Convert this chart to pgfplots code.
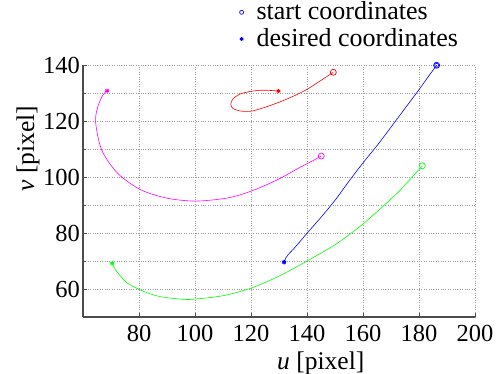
\documentclass[border=0pt]{standalone}
\usepackage{pgfplots}
\pgfplotsset{compat=1.18}
\usepackage{fontspec}
\setmainfont{Liberation Serif}
\definecolor{mmag}{RGB}{255,0,255}
\definecolor{mgreen}{RGB}{0,255,0}
\definecolor{mblue}{RGB}{0,0,255}
\definecolor{mred}{RGB}{255,0,0}
\begin{document}
\fontsize{24}{28}\selectfont
\begin{tikzpicture}
\path[use as bounding box] (0,0) rectangle (501pt,374pt);
\begin{axis}[
  at={(83pt,57pt)}, anchor=south west,
  scale only axis, width=392pt, height=252pt,
  xmin=60, xmax=200, ymin=50, ymax=140,
  axis x line=bottom, axis y line=left,
  axis line style={-, line width=1.2pt, black!70},
  xtick={80,100,120,140,160,180,200},
  xticklabels={\textrm{80},\textrm{100},\textrm{120},\textrm{140},\textrm{160},\textrm{180},\textrm{200}},
  ytick={60,80,100,120,140},
  yticklabels={\textrm{60},\textrm{80},\textrm{100},\textrm{120},\textrm{140}},
  minor ytick={70,90,110,130},
  tick align=inside, major tick length=4pt, minor tick length=3pt,
  tick style={black!70, line width=0.8pt},
  grid=both,
  major grid style={dotted, gray!80, line width=0.7pt},
  minor grid style={dotted, gray!80, line width=0.7pt},
  xticklabel style={font=\fontsize{24.5}{28}\selectfont\rmfamily, anchor=base, inner sep=0pt, yshift=-24.7pt},
  yticklabel style={font=\fontsize{24.5}{28}\selectfont\rmfamily, anchor=east, inner sep=0pt, xshift=-3pt},
  xlabel={\textit{u} [pixel]}, ylabel={\textit{v} [pixel]},
  label style={font=\fontsize{25.5}{28}\selectfont},
  xlabel style={at={(axis description cs:0.6066,-0.2103)}, anchor=base, inner sep=0pt},
  ylabel style={at={(axis description cs:-0.1403,0.669)}, anchor=center, inner sep=0pt},
  legend style={draw=none, fill=none, at={(axis description cs:0.399,1.0595)}, anchor=south west,
    font=\fontsize{26}{28}\selectfont, row sep=5pt, column sep=13pt, inner sep=0pt,
    nodes={inner sep=0pt}},
  legend cell align=left,
  legend image code/.code={\draw[#1] plot coordinates {(0pt,0pt)};},
  clip=false,
]
% legend entries
\addplot[only marks, mblue, mark=o, mark size=2pt, line width=0.7pt] coordinates {(186.3,139.9)};
\addlegendentry{start coordinates}
\addplot[only marks, mblue, mark=asterisk, mark size=2pt, line width=1pt] coordinates {(131.8,69.6)};
\addlegendentry{desired coordinates}
% blue
\addplot[mblue, line width=0.6pt, smooth, forget plot] coordinates {
(186.3,139.9) (183,135.4) (180,131.2) (175,124.5) (170,117.8) (165,111.2) (160.2,105.3) (155,98.5) (150.1,91.8) (145,85.6) (140,79.9) (136,75.2) (133.3,72.3) (132.5,71.2) (131.8,69.6)};
\addplot[only marks, mblue, mark=o, mark size=3pt, line width=0.7pt, forget plot] coordinates {(186.3,139.9)};
\addplot[only marks, mblue, mark=asterisk, mark size=2.2pt, line width=1pt, forget plot] coordinates {(131.8,69.6)};
% green
\addplot[mgreen, line width=0.6pt, smooth, forget plot] coordinates {
(181.2,104.0) (177,99.4) (173,95.0) (166,88.5) (159,82.4) (150,75.8) (140,70.0) (130,64.6) (120,60.3) (110,57.6) (100,56.4) (96,56.3) (88,57.2) (82,59.0) (76,62.0) (73.6,64.4) (71.2,67.4) (70.4,69.2)};
\addplot[only marks, mgreen, mark=o, mark size=3pt, line width=0.7pt, forget plot] coordinates {(181.2,104.0)};
\addplot[only marks, mgreen, mark=asterisk, mark size=2.2pt, line width=1pt, forget plot] coordinates {(70.4,69.2)};
% magenta
\addplot[mmag, line width=0.6pt, smooth, forget plot] coordinates {
(145.1,107.5) (141.5,105.5) (137.6,103.5) (129.4,99.0) (119.9,94.9) (111.6,92.5) (100.3,91.4) (90.2,92.4) (80.7,95.4) (72.4,101.3) (66.7,109.6) (64.5,119.6) (65.3,125.1) (67.1,129.3) (68.6,130.8)};
\addplot[only marks, mmag, mark=o, mark size=3pt, line width=0.7pt, forget plot] coordinates {(145.1,107.5)};
\addplot[only marks, mmag, mark=asterisk, mark size=2.2pt, line width=1pt, forget plot] coordinates {(68.6,130.8)};
% red
\addplot[mred, line width=0.6pt, smooth, forget plot] coordinates {
(149.4,137.4) (145,134.5) (140,131.3) (135,128.8) (130,126.7) (125,124.9) (120,123.5) (116,123.6) (113.5,124.5) (112.8,126) (113.5,127.8) (116,129.6) (120,130.6) (124,131.0) (127,130.9) (129.8,130.7)};
\addplot[only marks, mred, mark=o, mark size=3pt, line width=0.7pt, forget plot] coordinates {(149.4,137.4)};
\addplot[only marks, mred, mark=asterisk, mark size=2.2pt, line width=1pt, forget plot] coordinates {(129.8,130.7)};
\end{axis}
\end{tikzpicture}
\end{document}
